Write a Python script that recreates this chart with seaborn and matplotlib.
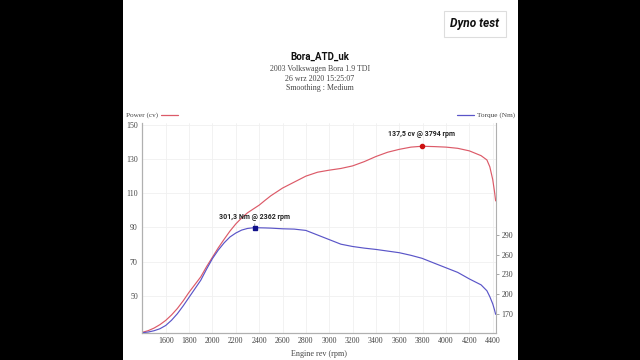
import numpy as np
import pandas as pd
import matplotlib
matplotlib.use("Agg")
import matplotlib.pyplot as plt
import seaborn as sns
from matplotlib.patches import Rectangle

# ---------------- data ----------------
rpm = [1400, 1450, 1500, 1550, 1600, 1650, 1700, 1750, 1800, 1850, 1900, 1950,
       2000, 2050, 2100, 2150, 2200, 2250, 2300, 2362, 2400, 2450,
       2500, 2600, 2700, 2800, 2900, 3000, 3100, 3200, 3300, 3400, 3500, 3600,
       3700, 3794, 3900, 4000, 4100, 4200, 4300, 4350, 4375, 4400, 4415, 4425]
power_cv = [28.5, 29.5, 31, 33, 35.5, 38.7, 42.5, 47, 52, 56.5, 61, 67,
            72.5, 78, 83, 87.8, 92, 95.5, 98.5, 101.3, 103, 105.8,
            108.5, 113, 116.5, 120, 122.3, 123.5, 124.5, 126, 128.5, 131.5, 134, 135.7,
            137, 137.5, 137.3, 137, 136.3, 134.8, 132, 129.5, 125.5, 118, 111, 105.5]
torque_nm = [141, 142, 144, 147, 152, 160, 170, 182, 195, 208, 221, 238,
             254, 267, 278, 287, 293, 297.5, 300, 301.3, 301, 300.8,
             300.5, 299.5, 299, 297, 290, 283, 276, 272.5, 270, 268, 265.5, 263,
             259, 254.5, 247, 240, 233, 223, 214, 205, 196, 185, 176, 169]
power_ticks = [50, 70, 90, 110, 130, 150]
torque_ticks = [170, 200, 230, 260, 290]
rpm_ticks = list(range(1600, 4401, 200))
title = "Bora_ATD_uk"
subtitle = ["2003 Volkswagen Bora 1.9 TDI", "26 wrz 2020 15:25:07", "Smoothing : Medium"]
peak_power = (3794, 137.5, "137,5 cv @ 3794 rpm")
peak_torque = (2362, 301.3, "301,3 Nm @ 2362 rpm")

df = pd.DataFrame({"rpm": rpm, "power": power_cv, "torque": torque_nm})

sns.set_style("white")
SERIF = ["Liberation Serif", "DejaVu Serif"]
SANS = ["Roboto", "DejaVu Sans"]
FS = 5.7

W, H = 640, 360
fig = plt.figure(figsize=(6.4, 3.6), dpi=100, facecolor="black")
fig.patches.append(Rectangle((123 / W, 0), (518 - 123) / W, 1, transform=fig.transFigure,
                             facecolor="white", edgecolor="none", zorder=-5))

L, R, B, T = 142, 496, 332.7, 122.7
ax = fig.add_axes([L / W, (H - B) / H, (R - L) / W, (B - T) / H])
ax.set_facecolor("white")
ax2 = ax.twinx()

red = "#dc5a68"
blue = "#5a55c8"

sns.lineplot(data=df, x="rpm", y="power", ax=ax, color=red, linewidth=0.85)
sns.lineplot(data=df, x="rpm", y="torque", ax=ax2, color=blue, linewidth=0.85)

ax.set_xlim(1397, 4428)
ax.set_ylim(28.3, 151.3)
ax2.set_ylim(141, 461.3)

ax.set_xticks(rpm_ticks)
ax.set_yticks(power_ticks)
ax2.set_yticks(torque_ticks)
for a in (ax, ax2):
    a.set_xlabel("")
    a.set_ylabel("")
    for lab in a.get_xticklabels() + a.get_yticklabels():
        lab.set_fontfamily(SERIF)
        lab.set_fontsize(FS)
        lab.set_color("#444444")
ax.tick_params(axis="x", length=0, pad=3)
ax.tick_params(axis="y", length=0, pad=3)
ax2.tick_params(axis="y", length=2.5, width=0.6, color="#999999", pad=1.5)

ax.grid(True, color="#f0f0f0", linewidth=0.6)
ax2.grid(False)
for a in (ax, ax2):
    a.spines["top"].set_visible(False)
    for s in ("left", "right", "bottom"):
        a.spines[s].set_color("#b0b0b0")
        a.spines[s].set_linewidth(0.8)
ax.spines["right"].set_visible(False)

ax.set_xlabel("Engine rev (rpm)", fontfamily=SERIF, fontsize=FS + 0.2, color="#444444", labelpad=4)

# peak markers & annotations
ax.plot([peak_power[0]], [peak_power[1]], "o", color="#cc1111", markersize=3, zorder=5)
ax.annotate(peak_power[2], xy=(peak_power[0], peak_power[1]), xytext=(0, 12.5),
            textcoords="offset pixels", ha="center", va="center", fontsize=5.0,
            fontweight="bold", fontfamily=SANS, color="#222222",
            arrowprops=dict(arrowstyle="-", color="#999999", lw=0.7, shrinkA=3, shrinkB=1))
ax2.plot([peak_torque[0]], [peak_torque[1]], "s", color="#10108a", markersize=2.8, zorder=5)
ax2.annotate(peak_torque[2], xy=(peak_torque[0], peak_torque[1]), xytext=(0, 11),
             textcoords="offset pixels", ha="center", va="center", fontsize=5.0,
             fontweight="bold", fontfamily=SANS, color="#222222",
             arrowprops=dict(arrowstyle="-", color="#999999", lw=0.7, shrinkA=3, shrinkB=1))

# legends
LFS = 5.2
fig.text(126 / W, 1 - 115.3 / H, "Power (cv)", fontfamily=SERIF, fontsize=LFS,
         color="#444444", ha="left", va="center")
fig.lines.append(plt.Line2D([161 / W, 178 / W], [1 - 115.3 / H] * 2, color=red,
                            linewidth=0.9, transform=fig.transFigure))
fig.text(515 / W, 1 - 115.3 / H, "Torque (Nm)", fontfamily=SERIF, fontsize=LFS,
         color="#444444", ha="right", va="center")
fig.lines.append(plt.Line2D([456.7 / W, 474 / W], [1 - 115.3 / H] * 2, color=blue,
                            linewidth=0.9, transform=fig.transFigure))

# titles
fig.text(320 / W, 1 - 57 / H, title, fontfamily=SANS, fontweight="bold", fontsize=6.9,
         color="#111111", ha="center", va="center")
for s, yy in zip(subtitle, [69, 78.8, 87.5]):
    fig.text(320 / W, 1 - yy / H, s, fontfamily=SERIF, fontsize=FS, color="#444444",
             ha="center", va="center")

fig.text(474.7 / W, 1 - 23.7 / H, "Dyno test", fontfamily=SANS, fontweight="bold",
         fontstyle="italic", fontsize=8.6, color="#111111", ha="center", va="center",
         bbox=dict(boxstyle="square,pad=0.55", facecolor="white", edgecolor="#dddddd", linewidth=0.8))

fig.savefig("out.png", dpi=100, facecolor="black")
